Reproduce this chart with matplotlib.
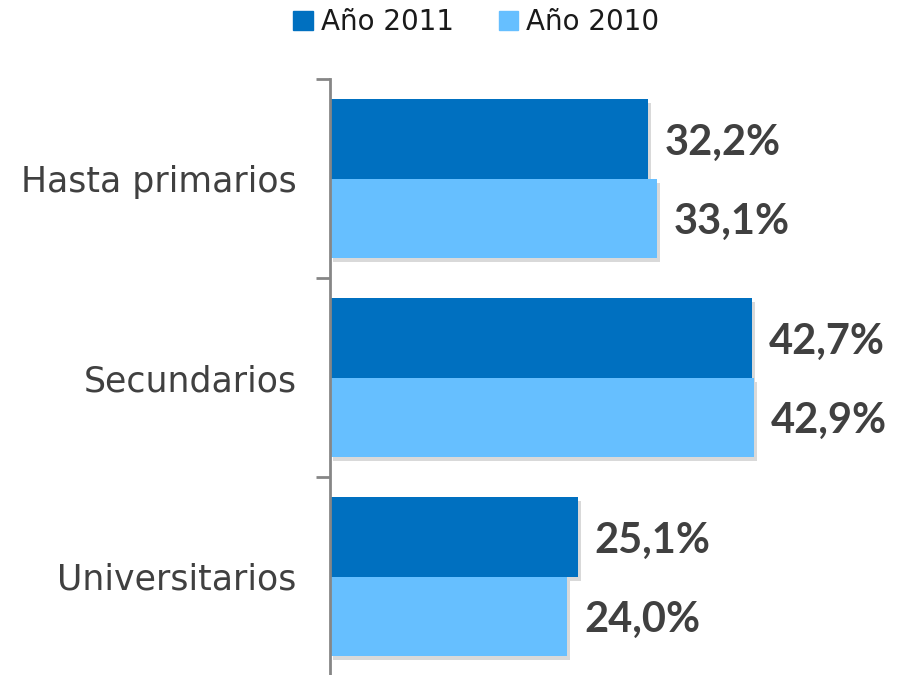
import numpy as np
import matplotlib.pyplot as plt
import matplotlib.patheffects as pe
from matplotlib.patches import Patch

categories = ["Hasta primarios", "Secundarios", "Universitarios"]
series_names = ["Año 2011", "Año 2010"]
values_2011 = [32.2, 42.7, 25.1]
values_2010 = [33.1, 42.9, 24.0]

colors = ["#0070C0", "#66BFFF"]


def main():
    fig = plt.figure(figsize=(9.04, 6.75), dpi=100)
    ax = fig.add_axes([330 / 904, -1 / 675, 1 - 330 / 904, (675 - 79 + 1) / 675])

    y = np.arange(len(categories))
    h = 0.4
    shadow = [pe.SimplePatchShadow(offset=(2, -3), shadow_rgbFace="#000000", alpha=0.15), pe.Normal()]

    for vals, off, col in [(values_2011, -h / 2, colors[0]), (values_2010, h / 2, colors[1])]:
        bars = ax.barh(y + off, vals, height=h, color=col, zorder=2)
        for b in bars:
            b.set_path_effects(shadow)
        for yy, v in zip(y + off, vals):
            ax.text(v + 1.7, yy + 0.02, f"{v:.1f}%".replace(".", ","), va="center", ha="left",
                    fontsize=30, fontweight="bold", color="#404040", family="Lato")

    ax.set_ylim(len(categories) - 0.5, -0.5)
    ax.set_xlim(0, 58.1)
    ax.set_yticks(y)
    ax.set_yticklabels(categories, fontsize=25, color="#404040", family="DejaVu Sans")
    ax.tick_params(axis="y", which="major", length=0, pad=24)
    ax.set_yticks(np.arange(len(categories) + 1) - 0.5, minor=True)
    ax.tick_params(axis="y", which="minor", length=10, width=2, color="#868686")
    ax.set_xticks([])
    for s in ["top", "right", "bottom"]:
        ax.spines[s].set_visible(False)
    ax.spines["left"].set_color("#868686")
    ax.spines["left"].set_linewidth(2)

    handles = [Patch(color=c) for c in colors]
    leg = fig.legend(handles, series_names, loc="upper center", bbox_to_anchor=(0.527, 1.025), ncol=2,
                     frameon=False, fontsize=20, handlelength=0.7, handleheight=0.7,
                     handletextpad=0.3, columnspacing=1.6)
    for t in leg.get_texts():
        t.set_color("#1a1a1a")

    fig.savefig("out.png", dpi=100)


if __name__ == "__main__":
    main()
